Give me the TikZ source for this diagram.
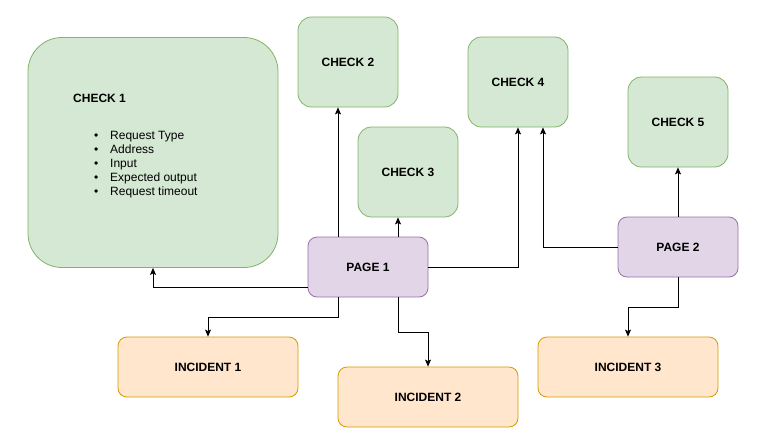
\documentclass[tikz,border=0pt]{standalone}
\usepackage{fontspec}
\setmainfont{Liberation Sans}
\usetikzlibrary{arrows.meta}
\definecolor{gfill}{HTML}{D5E8D4}
\definecolor{gline}{HTML}{82B366}
\definecolor{pfill}{HTML}{E1D5E7}
\definecolor{pline}{HTML}{9673A6}
\definecolor{ofill}{HTML}{FFE6CC}
\definecolor{oline}{HTML}{D79B00}
\tikzset{
  box/.style={draw, line width=0.8pt, inner sep=0pt, font=\fontsize{12}{14}\selectfont\bfseries},
  checkbox/.style={box, fill=gfill, draw=gline, minimum width=100pt, minimum height=90pt, rounded corners=13.5pt},
  pagebox/.style={box, fill=pfill, draw=pline, minimum width=120pt, minimum height=60pt, rounded corners=9pt},
  incbox/.style={box, fill=ofill, draw=oline, minimum width=180pt, minimum height=60pt, rounded corners=9pt},
  lbl/.style={inner sep=0pt, anchor=base west, font=\fontsize{12}{14}\selectfont},
  arr/.style={draw, line width=0.8pt, -{Stealth[length=7pt,width=6pt,inset=1.5pt]}}
}
\begin{document}
\begin{tikzpicture}[x=1pt,y=-1pt]
\useasboundingbox (0,0) rectangle (768,444);
% nodes
\node[checkbox, minimum width=250pt, minimum height=230pt, rounded corners=34pt] (c1) at (153,152.5) {};
\node[lbl, font=\fontsize{12}{14}\selectfont\bfseries] (c1t) at (73,102.5) {CHECK 1};
\node[lbl] (b1) at (94,139.3) {\textbullet};
\node[lbl] (b2) at (94,153.3) {\textbullet};
\node[lbl] (b3) at (94,167.3) {\textbullet};
\node[lbl] (b4) at (94,181.3) {\textbullet};
\node[lbl] (b5) at (94,195.3) {\textbullet};
\node[lbl] (t1) at (110,139.3) {Request Type};
\node[lbl] (t2) at (110,153.3) {Address};
\node[lbl] (t3) at (110,167.3) {Input};
\node[lbl] (t4) at (110,181.3) {Expected output};
\node[lbl] (t5) at (110,195.3) {Request timeout};
\node[checkbox] (c2) at (348,62) {CHECK 2};
\node[checkbox] (c3) at (408,172) {CHECK 3};
\node[checkbox] (c4) at (518,82) {CHECK 4};
\node[checkbox] (c5) at (678,122) {CHECK 5};
\node[pagebox] (p1) at (368,267) {PAGE 1};
\node[pagebox] (p2) at (678,247) {PAGE 2};
\node[incbox] (i1) at (208,367) {INCIDENT 1};
\node[incbox] (i2) at (428,397) {INCIDENT 2};
\node[incbox] (i3) at (628,367) {INCIDENT 3};
% connectors
\draw[arr] ([yshift=-20pt]p1.west) -| (c1.south);
\draw[arr] ([xshift=-30pt]p1.north) -- ([xshift=-30pt]p1.north |- c2.south);
\draw[arr] ([xshift=30pt]p1.north) -- ([xshift=30pt]p1.north |- c3.south);
\draw[arr] (p1.east) -| (c4.south);
\draw[arr] ([xshift=-30pt]p1.south) -- ++(0,20) -| (i1.north);
\draw[arr] ([xshift=30pt]p1.south) -- ++(0,35) -| (i2.north);
\draw[arr] (p2.west) -| ([xshift=25pt]c4.south);
\draw[arr] (p2.north) -- (c5.south);
\draw[arr] (p2.south) -- ++(0,30) -| (i3.north);
\end{tikzpicture}
\end{document}
